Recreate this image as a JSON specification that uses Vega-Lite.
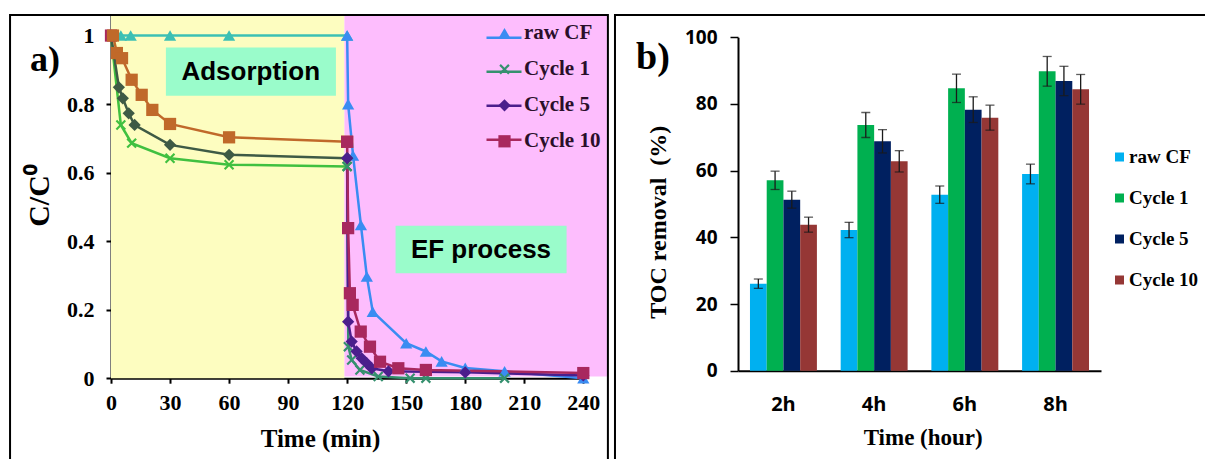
{
  "$schema": "https://vega.github.io/schema/vega-lite/v6.json",
  "autosize": {"type": "pad"},
  "padding": {"left": 9, "top": 14, "right": 0, "bottom": 0},
  "background": "white",
  "spacing": 154,
  "bounds": "flush",
  "resolve": {"scale": {"color": "independent", "shape": "independent", "size": "independent", "stroke": "independent"}, "legend": {"color": "independent", "shape": "independent", "size": "independent", "stroke": "independent"}},
  "config": {"view": {"stroke": null}},
  "hconcat": [
    {
      "width": 472.3,
      "height": 363.2,
      "title": {"text": "a)", "anchor": "start", "frame": "group", "offset": 0, "dx": -81, "dy": 93, "baseline": "alphabetic", "fontSize": 36, "font": "Liberation Serif", "fontWeight": "bold", "color": "black"},
      "layer": [
        {
          "data": {"values": [{"phase": "Adsorption", "start": 0, "end": 118.6}]},
          "mark": {"type": "rect", "color": "#fdfdc0"},
          "encoding": {
            "x": {"field": "start", "type": "quantitative", "scale": {"domain": [0, 240], "nice": false, "zero": false},
              "axis": {"title": "Time (min)", "values": [0, 30, 60, 90, 120, 150, 180, 210, 240], "labelFlush": false, "grid": false, "domainColor": "black", "domainWidth": 2, "tickColor": "black", "tickWidth": 2, "tickSize": 5, "labelFont": "Liberation Serif", "labelFontSize": 22, "labelFontWeight": "bold", "labelColor": "black", "labelPadding": 9, "titleFont": "Liberation Serif", "titleFontSize": 25, "titleFontWeight": "bold", "titleColor": "black", "titleX": 209, "titleY": 68.7, "titleBaseline": "alphabetic", "titleAlign": "center"}},
            "x2": {"field": "end"},
            "y": {"datum": 0, "type": "quantitative", "scale": {"domain": [0, 1.06], "nice": false, "zero": true},
              "axis": {"title": "C/C⁰", "values": [0, 0.2, 0.4, 0.6, 0.8, 1], "format": "~g", "labelFlush": false, "grid": false, "domainColor": "black", "domainWidth": 2, "tickColor": "black", "tickWidth": 2, "tickSize": 5, "labelFont": "Liberation Serif", "labelFontSize": 22, "labelFontWeight": "bold", "labelColor": "black", "labelPadding": 12, "titleFont": "Liberation Serif", "titleFontSize": 30, "titleFontWeight": "bold", "titleColor": "black", "titleX": -71.5, "titleY": 180, "titleBaseline": "middle", "titleAlign": "center", "titleAngle": -90}},
            "y2": {"datum": 1.06}
          }
        },
        {
          "data": {"values": [{"phase": "EF process", "start": 118.6, "end": 252}]},
          "mark": {"type": "rect", "color": "#fdbdfd"},
          "encoding": {
            "x": {"field": "start", "type": "quantitative"},
            "x2": {"field": "end"},
            "y": {"datum": 0.005, "type": "quantitative"},
            "y2": {"datum": 1.06}
          }
        },
        {
          "data": {"values": [{}]},
          "mark": {"type": "rect", "color": "#9afccb"},
          "encoding": {"x": {"datum": 27.9}, "x2": {"datum": 114.3}, "y": {"datum": 0.965}, "y2": {"datum": 0.824}}
        },
        {
          "data": {"values": [{}]},
          "mark": {"type": "text", "text": "Adsorption", "font": "Liberation Sans", "fontWeight": "bold", "fontSize": 26, "color": "black"},
          "encoding": {"x": {"datum": 71}, "y": {"datum": 0.895}}
        },
        {
          "data": {"values": [{}]},
          "mark": {"type": "rect", "color": "#9afccb"},
          "encoding": {"x": {"datum": 144.6}, "x2": {"datum": 231.5}, "y": {"datum": 0.445}, "y2": {"datum": 0.306}}
        },
        {
          "data": {"values": [{}]},
          "mark": {"type": "text", "text": "EF process", "font": "Liberation Sans", "fontWeight": "bold", "fontSize": 26, "color": "black"},
          "encoding": {"x": {"datum": 188}, "y": {"datum": 0.375}}
        },
        {
          "data": {"values": []},
          "mark": {"type": "line"},
          "encoding": {
            "x": {"field": "t", "type": "quantitative"},
            "y": {"field": "c", "type": "quantitative"},
            "stroke": {"field": "s", "type": "nominal", "scale": {"domain": ["raw CF", "Cycle 1", "Cycle 5", "Cycle 10"], "range": ["#3a8cf2", "#35906e", "#4b1e8c", "#a8285e"]},
              "legend": {"orient": "none", "legendX": 374, "legendY": 3.8, "title": null, "padding": 0, "symbolType": "stroke", "symbolSize": 1225, "symbolStrokeWidth": 2.5, "symbolOpacity": 1, "labelExpr": "' '", "labelColor": "transparent", "labelFontSize": 21, "labelOffset": 2, "rowPadding": 5}}
          }
        },
        {
          "data": {"values": [
            {"g": "raw CF|A", "t": 0, "c": 1},
            {"g": "raw CF|A", "t": 5, "c": 1},
            {"g": "raw CF|A", "t": 10, "c": 1},
            {"g": "raw CF|A", "t": 30, "c": 1},
            {"g": "raw CF|A", "t": 60, "c": 1},
            {"g": "raw CF|A", "t": 120, "c": 1},
            {"g": "raw CF|E", "t": 120, "c": 1},
            {"g": "raw CF|E", "t": 120.5, "c": 0.8},
            {"g": "raw CF|E", "t": 123, "c": 0.65},
            {"g": "raw CF|E", "t": 127, "c": 0.447},
            {"g": "raw CF|E", "t": 130, "c": 0.297},
            {"g": "raw CF|E", "t": 133, "c": 0.194},
            {"g": "raw CF|E", "t": 150, "c": 0.102},
            {"g": "raw CF|E", "t": 160, "c": 0.078},
            {"g": "raw CF|E", "t": 168, "c": 0.049},
            {"g": "raw CF|E", "t": 180, "c": 0.03},
            {"g": "raw CF|E", "t": 200, "c": 0.02},
            {"g": "raw CF|E", "t": 240, "c": 0},
            {"g": "Cycle 1|A", "t": 0, "c": 1},
            {"g": "Cycle 1|A", "t": 5, "c": 0.739},
            {"g": "Cycle 1|A", "t": 10.5, "c": 0.686},
            {"g": "Cycle 1|A", "t": 30, "c": 0.642},
            {"g": "Cycle 1|A", "t": 60, "c": 0.623},
            {"g": "Cycle 1|A", "t": 120, "c": 0.618},
            {"g": "Cycle 1|E", "t": 120, "c": 0.618},
            {"g": "Cycle 1|E", "t": 120.6, "c": 0.092},
            {"g": "Cycle 1|E", "t": 122.3, "c": 0.053},
            {"g": "Cycle 1|E", "t": 126.5, "c": 0.024},
            {"g": "Cycle 1|E", "t": 135.8, "c": 0.005},
            {"g": "Cycle 1|E", "t": 152, "c": 0},
            {"g": "Cycle 1|E", "t": 160, "c": 0},
            {"g": "Cycle 1|E", "t": 200, "c": 0},
            {"g": "Cycle 5|A", "t": 0, "c": 1},
            {"g": "Cycle 5|A", "t": 4, "c": 0.849},
            {"g": "Cycle 5|A", "t": 6, "c": 0.817},
            {"g": "Cycle 5|A", "t": 9, "c": 0.773},
            {"g": "Cycle 5|A", "t": 12, "c": 0.739},
            {"g": "Cycle 5|A", "t": 30, "c": 0.681},
            {"g": "Cycle 5|A", "t": 60, "c": 0.652},
            {"g": "Cycle 5|A", "t": 120, "c": 0.642},
            {"g": "Cycle 5|E", "t": 120, "c": 0.642},
            {"g": "Cycle 5|E", "t": 120.5, "c": 0.165},
            {"g": "Cycle 5|E", "t": 122.3, "c": 0.107},
            {"g": "Cycle 5|E", "t": 124.8, "c": 0.078},
            {"g": "Cycle 5|E", "t": 127.4, "c": 0.058},
            {"g": "Cycle 5|E", "t": 129.9, "c": 0.044},
            {"g": "Cycle 5|E", "t": 132.5, "c": 0.029},
            {"g": "Cycle 5|E", "t": 141, "c": 0.02},
            {"g": "Cycle 5|E", "t": 180, "c": 0.017},
            {"g": "Cycle 5|E", "t": 240, "c": 0.008},
            {"g": "Cycle 10|0", "t": 0, "c": 1},
            {"g": "Cycle 10|A", "t": 1, "c": 1},
            {"g": "Cycle 10|A", "t": 3, "c": 0.949},
            {"g": "Cycle 10|A", "t": 5.6, "c": 0.934},
            {"g": "Cycle 10|A", "t": 10.5, "c": 0.871},
            {"g": "Cycle 10|A", "t": 15.6, "c": 0.827},
            {"g": "Cycle 10|A", "t": 21, "c": 0.783},
            {"g": "Cycle 10|A", "t": 30, "c": 0.742},
            {"g": "Cycle 10|A", "t": 60, "c": 0.703},
            {"g": "Cycle 10|A", "t": 120, "c": 0.69},
            {"g": "Cycle 10|E", "t": 120, "c": 0.69},
            {"g": "Cycle 10|E", "t": 120.5, "c": 0.438},
            {"g": "Cycle 10|E", "t": 121.4, "c": 0.248},
            {"g": "Cycle 10|E", "t": 122.8, "c": 0.214},
            {"g": "Cycle 10|E", "t": 126.9, "c": 0.136},
            {"g": "Cycle 10|E", "t": 131.6, "c": 0.092},
            {"g": "Cycle 10|E", "t": 136.7, "c": 0.048},
            {"g": "Cycle 10|E", "t": 146, "c": 0.029},
            {"g": "Cycle 10|E", "t": 160, "c": 0.024},
            {"g": "Cycle 10|E", "t": 240, "c": 0.015}
          ]},
          "encoding": {
            "x": {"field": "t", "type": "quantitative"},
            "y": {"field": "c", "type": "quantitative"},
            "color": {"field": "g", "type": "nominal",
              "scale": {"domain": ["raw CF|A", "raw CF|E", "Cycle 1|A", "Cycle 1|E", "Cycle 5|A", "Cycle 5|E", "Cycle 10|0", "Cycle 10|A", "Cycle 10|E"],
                        "range": ["#3cc0b4", "#3a8cf2", "#40c040", "#35906e", "#3e5a45", "#4b1e8c", "#a8285e", "#c0692a", "#a8285e"]},
              "legend": {"orient": "none", "legendX": 383, "legendY": 7.8, "values": ["raw CF|E", "Cycle 1|E", "Cycle 5|E", "Cycle 10|E"], "labelExpr": "split(datum.label, '|')[0]", "title": null, "padding": 0, "labelFont": "Liberation Serif", "labelFontSize": 21, "labelFontWeight": "bold", "labelColor": "#2a0f2a", "labelOffset": 9, "rowPadding": 14, "symbolOpacity": 1, "symbolStrokeWidth": 0}
            }
          },
          "layer": [
            {"mark": {"type": "line", "strokeWidth": 2.5}},
            {"mark": {"type": "point", "filled": true, "opacity": 1, "strokeWidth": 0},
             "encoding": {
               "shape": {"field": "g", "type": "nominal", "scale": {"domain": ["raw CF|A", "raw CF|E", "Cycle 1|A", "Cycle 1|E", "Cycle 5|A", "Cycle 5|E", "Cycle 10|0", "Cycle 10|A", "Cycle 10|E"], "range": ["triangle-up", "triangle-up", "M-0.85,-0.6L-0.6,-0.85L0,-0.25L0.6,-0.85L0.85,-0.6L0.25,0L0.85,0.6L0.6,0.85L0,0.25L-0.6,0.85L-0.85,0.6L-0.25,0Z", "M-0.85,-0.6L-0.6,-0.85L0,-0.25L0.6,-0.85L0.85,-0.6L0.25,0L0.85,0.6L0.6,0.85L0,0.25L-0.6,0.85L-0.85,0.6L-0.25,0Z", "diamond", "diamond", "square", "square", "square"]},
                 "legend": {"orient": "none", "legendX": 383, "legendY": 7.8, "values": ["raw CF|E", "Cycle 1|E", "Cycle 5|E", "Cycle 10|E"], "labelExpr": "split(datum.label, '|')[0]", "title": null, "padding": 0, "labelFont": "Liberation Serif", "labelFontSize": 21, "labelFontWeight": "bold", "labelColor": "#2a0f2a", "labelOffset": 9, "rowPadding": 14, "symbolOpacity": 1, "symbolStrokeWidth": 0}},
               "size": {"field": "g", "type": "ordinal", "scale": {"domain": ["raw CF|A", "raw CF|E", "Cycle 1|A", "Cycle 1|E", "Cycle 5|A", "Cycle 5|E", "Cycle 10|0", "Cycle 10|A", "Cycle 10|E"], "range": [150, 150, 110, 110, 130, 130, 160, 160, 160]},
                 "legend": {"orient": "none", "legendX": 383, "legendY": 7.8, "values": ["raw CF|E", "Cycle 1|E", "Cycle 5|E", "Cycle 10|E"], "labelExpr": "split(datum.label, '|')[0]", "title": null, "padding": 0, "labelFont": "Liberation Serif", "labelFontSize": 21, "labelFontWeight": "bold", "labelColor": "#2a0f2a", "labelOffset": 9, "rowPadding": 14, "symbolOpacity": 1, "symbolStrokeWidth": 0}}
             }}
          ]
        },
        {
          "data": {"values": [{}]},
          "mark": {"type": "rect", "filled": false, "color": "black", "strokeWidth": 2},
          "encoding": {"x": {"datum": -51.3}, "x2": {"datum": 252.5}, "y": {"datum": 1.06}, "y2": {"datum": -0.35}}
        },
        {
          "data": {"values": [{}]},
          "mark": {"type": "rect", "filled": false, "color": "black", "strokeWidth": 2},
          "encoding": {"x": {"datum": 256.1}, "x2": {"datum": 560}, "y": {"datum": 1.06}, "y2": {"datum": -0.35}}
        }
      ]
    },
    {
      "width": 363,
      "height": 355.7,
      "title": {"text": "b)", "anchor": "start", "frame": "group", "offset": 0, "dx": -102, "dy": 92, "baseline": "alphabetic", "fontSize": 38, "font": "Liberation Serif", "fontWeight": "bold", "color": "black"},
      "data": {"values": [
        {"time": "2h", "s": "raw CF", "v": 26.1, "e": 1.4},
        {"time": "2h", "s": "Cycle 1", "v": 57.1, "e": 2.75},
        {"time": "2h", "s": "Cycle 5", "v": 51.3, "e": 2.55},
        {"time": "2h", "s": "Cycle 10", "v": 43.8, "e": 2.25},
        {"time": "4h", "s": "raw CF", "v": 42.2, "e": 2.3},
        {"time": "4h", "s": "Cycle 1", "v": 73.7, "e": 3.75},
        {"time": "4h", "s": "Cycle 5", "v": 68.8, "e": 3.5},
        {"time": "4h", "s": "Cycle 10", "v": 62.8, "e": 3.2},
        {"time": "6h", "s": "raw CF", "v": 52.8, "e": 2.6},
        {"time": "6h", "s": "Cycle 1", "v": 84.7, "e": 4.25},
        {"time": "6h", "s": "Cycle 5", "v": 78.3, "e": 3.85},
        {"time": "6h", "s": "Cycle 10", "v": 75.9, "e": 3.75},
        {"time": "8h", "s": "raw CF", "v": 59.0, "e": 2.95},
        {"time": "8h", "s": "Cycle 1", "v": 89.8, "e": 4.45},
        {"time": "8h", "s": "Cycle 5", "v": 86.9, "e": 4.4},
        {"time": "8h", "s": "Cycle 10", "v": 84.4, "e": 4.45}
      ]},
      "encoding": {
        "x": {"field": "time", "type": "nominal", "scale": {"paddingInner": 0.262, "paddingOuter": 0.132},
          "axis": {"title": "Time (hour)", "labelAngle": 0, "ticks": false, "grid": false, "domainColor": "black", "domainWidth": 2, "labelFont": "Open Sans", "labelFontWeight": "bold", "labelFontSize": 20, "labelColor": "black", "labelPadding": 24, "titleFont": "Liberation Serif", "titleFontSize": 23, "titleFontWeight": "bold", "titleColor": "black", "titleX": 184.7, "titleY": 73.3, "titleBaseline": "alphabetic", "titleAlign": "center"}},
        "xOffset": {"field": "s", "type": "nominal", "scale": {"domain": ["raw CF", "Cycle 1", "Cycle 5", "Cycle 10"], "paddingInner": 0}},
        "y": {"field": "v", "type": "quantitative", "scale": {"domain": [0, 100], "range": [355.7, 22.3], "nice": false},
          "axis": {"title": "TOC removal\u00a0 (%)", "values": [0, 20, 40, 60, 80, 100], "labelFlush": false, "grid": false, "domainColor": "black", "domainWidth": 2, "tickColor": "black", "tickWidth": 1.5, "tickSize": 8, "labelFont": "Open Sans", "labelFontWeight": "bold", "labelFontSize": 19, "labelColor": "black", "labelPadding": 13, "titleFont": "Liberation Serif", "titleFontSize": 24, "titleFontWeight": "bold", "titleColor": "black", "titleX": -79.5, "titleY": 206.7, "titleBaseline": "middle", "titleAlign": "center", "titleAngle": -90}}
      },
      "layer": [
        {"mark": {"type": "bar"},
         "encoding": {"color": {"field": "s", "type": "nominal", "scale": {"domain": ["raw CF", "Cycle 1", "Cycle 5", "Cycle 10"], "range": ["#00b0f0", "#00b050", "#002060", "#953735"]},
           "legend": {"orient": "none", "legendX": 372, "legendY": 132.5, "title": null, "padding": 0, "symbolType": "square", "symbolSize": 81, "labelFont": "Liberation Serif", "labelFontSize": 19, "labelFontWeight": "bold", "labelColor": "black", "labelOffset": 0, "rowPadding": 21}}}},
        {"mark": {"type": "errorbar", "ticks": {"size": 9, "thickness": 1.3, "color": "#1a1a1a"}, "thickness": 1.3, "color": "#1a1a1a"},
         "encoding": {"yError": {"field": "e"}}}
      ]
    }
  ]
}
